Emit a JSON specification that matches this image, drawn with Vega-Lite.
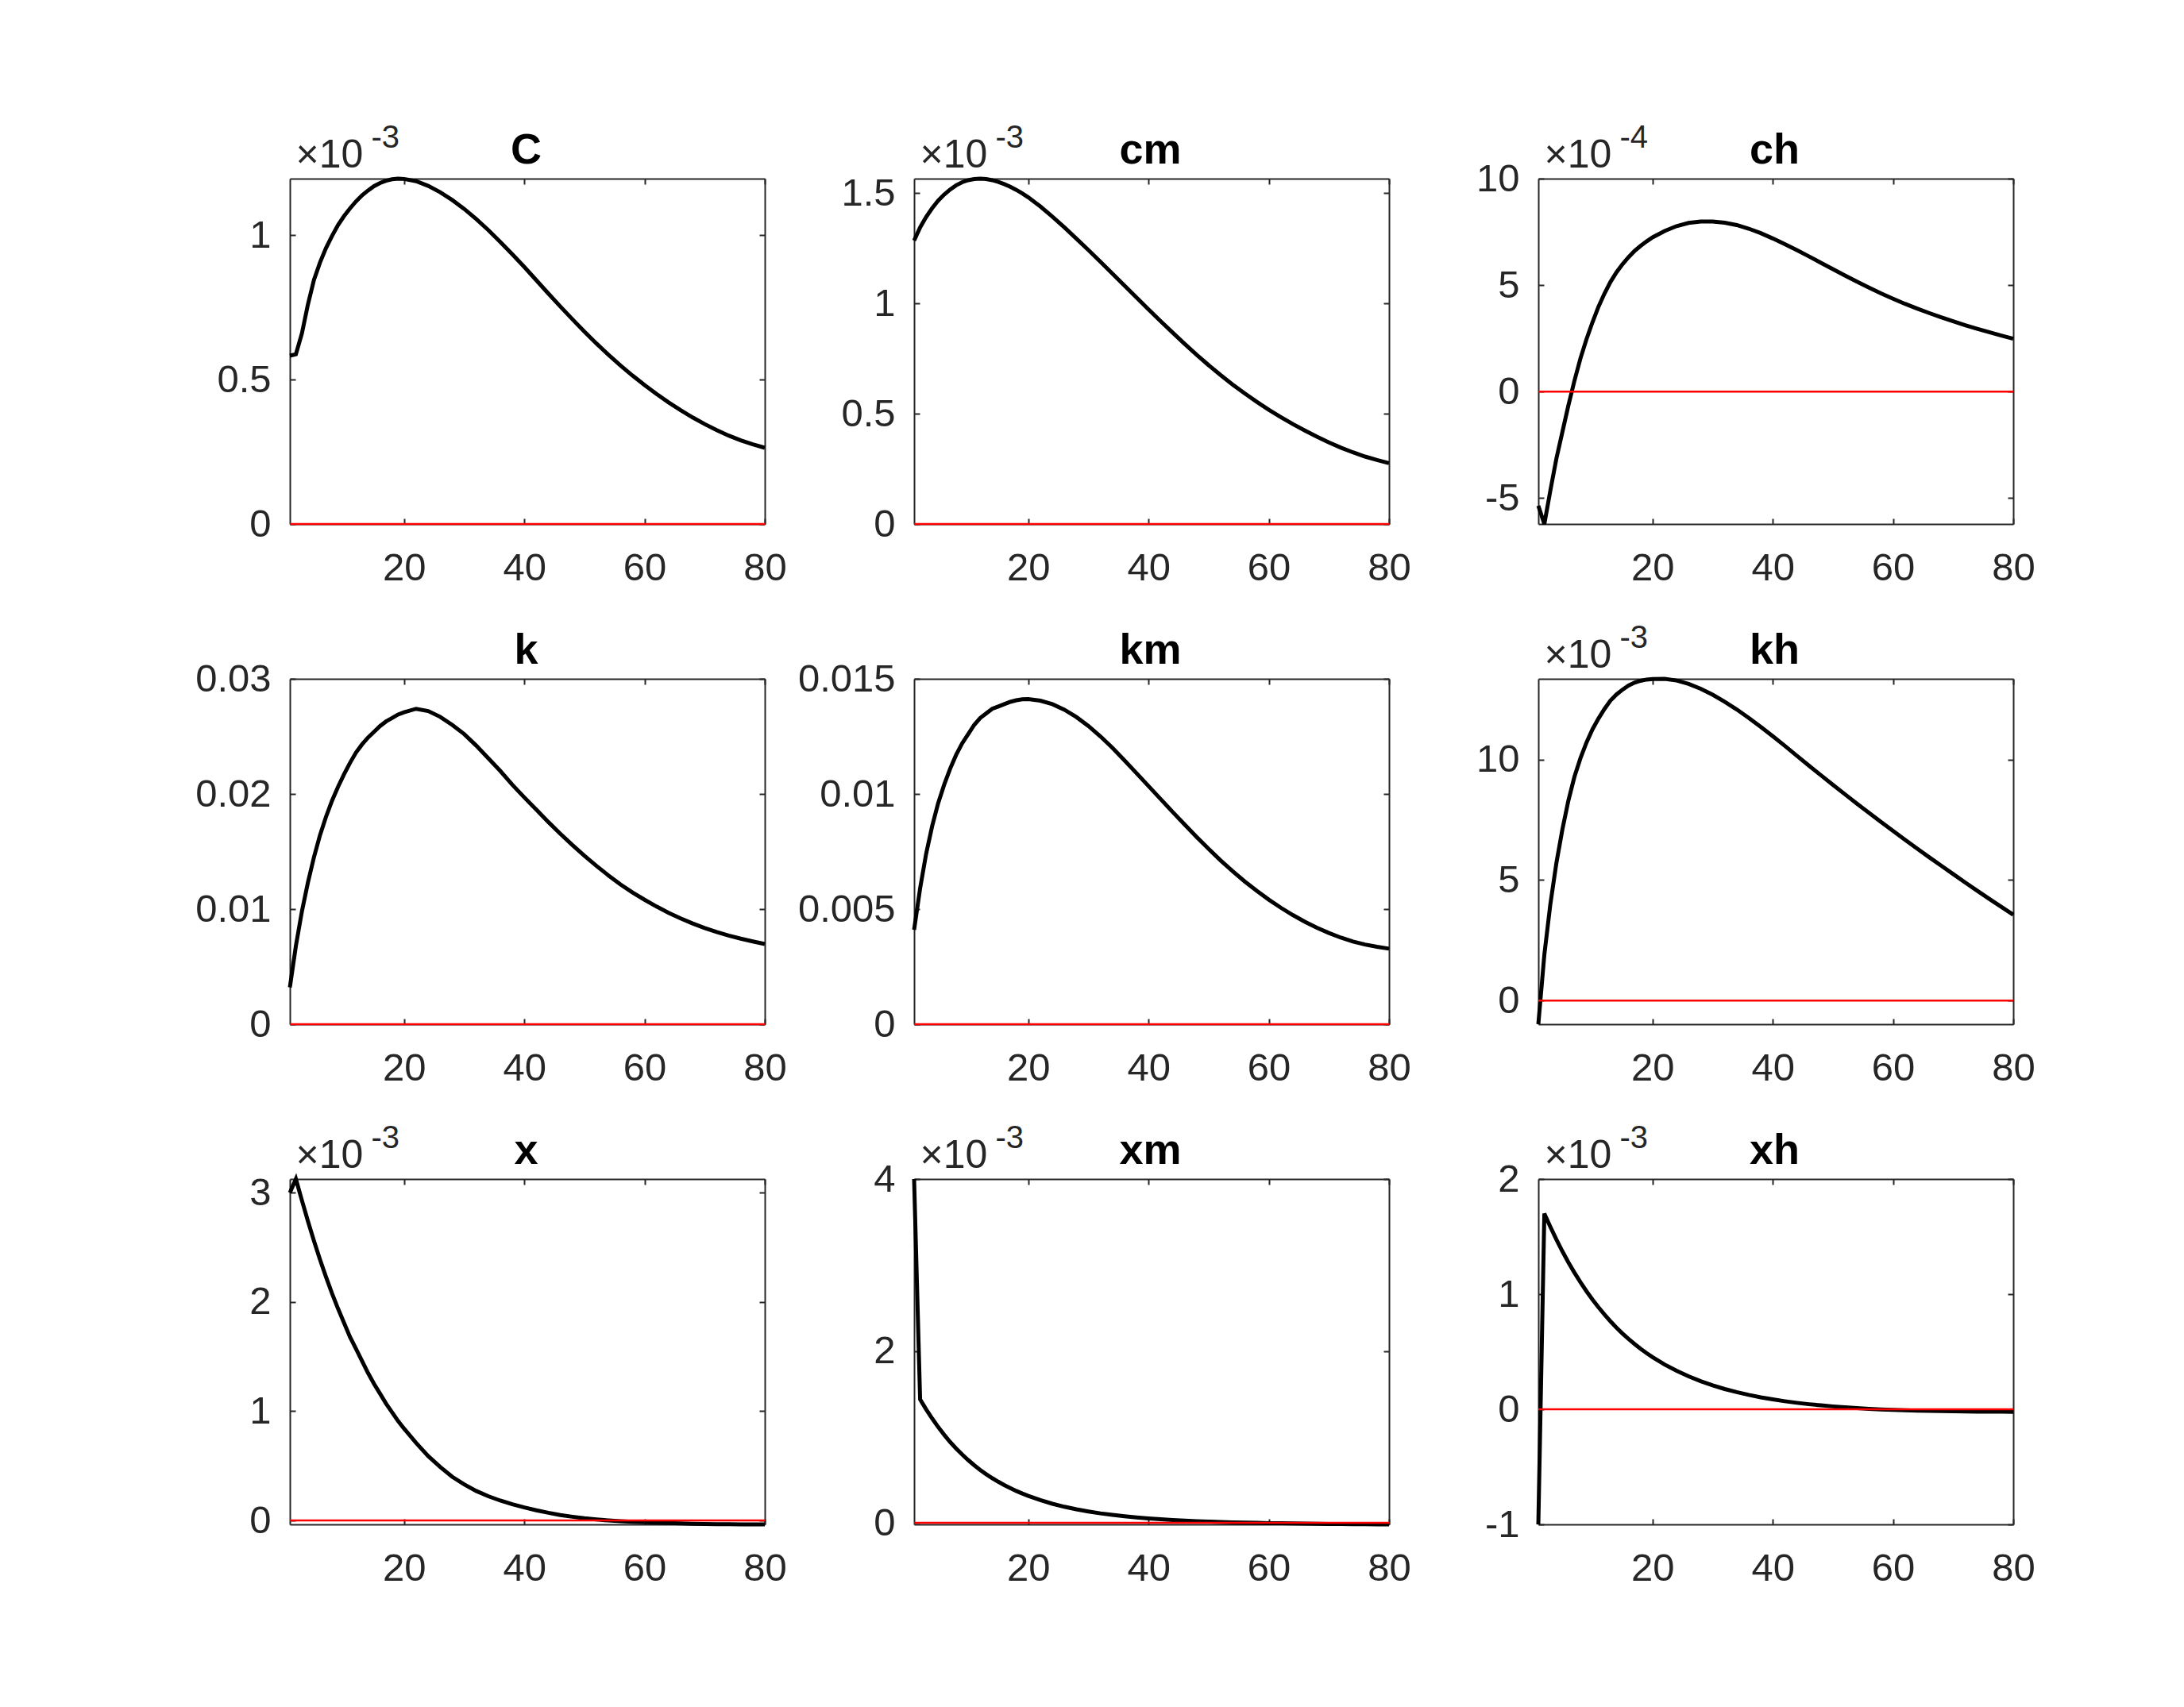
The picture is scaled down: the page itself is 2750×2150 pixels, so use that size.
{
"$schema": "https://vega.github.io/schema/vega-lite/v6.json",
"background": "white",
"autosize": {"type": "pad"},
"padding": {"left": 245, "top": 153, "right": 10, "bottom": 10},
"datasets": {"irf": [
{"v":"C","t":1,"y":0.000583},{"v":"C","t":2,"y":0.000588},{"v":"C","t":3,"y":0.00066},{"v":"C","t":4,"y":0.00076},{"v":"C","t":5,"y":0.000845},{"v":"C","t":6,"y":0.000905},{"v":"C","t":7,"y":0.000955},{"v":"C","t":8,"y":0.000997},{"v":"C","t":9,"y":0.001035},{"v":"C","t":10,"y":0.001066},{"v":"C","t":11,"y":0.001093},{"v":"C","t":12,"y":0.001117},{"v":"C","t":13,"y":0.001138},{"v":"C","t":14,"y":0.001155},{"v":"C","t":15,"y":0.00117},{"v":"C","t":16,"y":0.001181},{"v":"C","t":17,"y":0.001189},{"v":"C","t":18,"y":0.001194},{"v":"C","t":19,"y":0.001196},{"v":"C","t":20,"y":0.001195},{"v":"C","t":22,"y":0.001187},{"v":"C","t":24,"y":0.001171},{"v":"C","t":26,"y":0.001149},{"v":"C","t":28,"y":0.001122},{"v":"C","t":30,"y":0.001091},{"v":"C","t":32,"y":0.001056},{"v":"C","t":34,"y":0.001018},{"v":"C","t":36,"y":0.000977},{"v":"C","t":38,"y":0.000934},{"v":"C","t":40,"y":0.00089},{"v":"C","t":42,"y":0.000844},{"v":"C","t":44,"y":0.000798},{"v":"C","t":46,"y":0.000753},{"v":"C","t":48,"y":0.000709},{"v":"C","t":50,"y":0.000666},{"v":"C","t":52,"y":0.000625},{"v":"C","t":54,"y":0.000586},{"v":"C","t":56,"y":0.000549},{"v":"C","t":58,"y":0.000514},{"v":"C","t":60,"y":0.000481},{"v":"C","t":62,"y":0.00045},{"v":"C","t":64,"y":0.000421},{"v":"C","t":66,"y":0.000394},{"v":"C","t":68,"y":0.000369},{"v":"C","t":70,"y":0.000346},{"v":"C","t":72,"y":0.000325},{"v":"C","t":74,"y":0.000306},{"v":"C","t":76,"y":0.00029},{"v":"C","t":78,"y":0.000276},{"v":"C","t":80,"y":0.000264},
{"v":"cm","t":1,"y":0.001285},{"v":"cm","t":2,"y":0.001345},{"v":"cm","t":3,"y":0.001392},{"v":"cm","t":4,"y":0.001432},{"v":"cm","t":5,"y":0.001466},{"v":"cm","t":6,"y":0.001494},{"v":"cm","t":7,"y":0.001517},{"v":"cm","t":8,"y":0.001536},{"v":"cm","t":9,"y":0.00155},{"v":"cm","t":10,"y":0.001559},{"v":"cm","t":11,"y":0.001564},{"v":"cm","t":12,"y":0.001566},{"v":"cm","t":13,"y":0.001564},{"v":"cm","t":14,"y":0.001559},{"v":"cm","t":15,"y":0.001551},{"v":"cm","t":16,"y":0.001541},{"v":"cm","t":17,"y":0.001529},{"v":"cm","t":18,"y":0.001515},{"v":"cm","t":19,"y":0.001499},{"v":"cm","t":20,"y":0.001481},{"v":"cm","t":22,"y":0.00144},{"v":"cm","t":24,"y":0.001394},{"v":"cm","t":26,"y":0.001345},{"v":"cm","t":28,"y":0.001294},{"v":"cm","t":30,"y":0.001242},{"v":"cm","t":32,"y":0.001189},{"v":"cm","t":34,"y":0.001135},{"v":"cm","t":36,"y":0.001081},{"v":"cm","t":38,"y":0.001027},{"v":"cm","t":40,"y":0.000973},{"v":"cm","t":42,"y":0.00092},{"v":"cm","t":44,"y":0.000868},{"v":"cm","t":46,"y":0.000817},{"v":"cm","t":48,"y":0.000767},{"v":"cm","t":50,"y":0.00072},{"v":"cm","t":52,"y":0.000675},{"v":"cm","t":54,"y":0.000632},{"v":"cm","t":56,"y":0.000592},{"v":"cm","t":58,"y":0.000554},{"v":"cm","t":60,"y":0.000518},{"v":"cm","t":62,"y":0.000485},{"v":"cm","t":64,"y":0.000453},{"v":"cm","t":66,"y":0.000424},{"v":"cm","t":68,"y":0.000396},{"v":"cm","t":70,"y":0.00037},{"v":"cm","t":72,"y":0.000346},{"v":"cm","t":74,"y":0.000325},{"v":"cm","t":76,"y":0.000306},{"v":"cm","t":78,"y":0.00029},{"v":"cm","t":80,"y":0.000276},
{"v":"ch","t":1,"y":-0.000536},{"v":"ch","t":2,"y":-0.000622},{"v":"ch","t":3,"y":-0.000465},{"v":"ch","t":4,"y":-0.000315},{"v":"ch","t":5,"y":-0.00019},{"v":"ch","t":6,"y":-0.000065},{"v":"ch","t":7,"y":0.00005},{"v":"ch","t":8,"y":0.000155},{"v":"ch","t":9,"y":0.000245},{"v":"ch","t":10,"y":0.000325},{"v":"ch","t":11,"y":0.000398},{"v":"ch","t":12,"y":0.00046},{"v":"ch","t":13,"y":0.000515},{"v":"ch","t":14,"y":0.00056},{"v":"ch","t":15,"y":0.000598},{"v":"ch","t":16,"y":0.000631},{"v":"ch","t":17,"y":0.00066},{"v":"ch","t":18,"y":0.000684},{"v":"ch","t":19,"y":0.000705},{"v":"ch","t":20,"y":0.000724},{"v":"ch","t":22,"y":0.000754},{"v":"ch","t":24,"y":0.000777},{"v":"ch","t":26,"y":0.000792},{"v":"ch","t":28,"y":0.000799},{"v":"ch","t":30,"y":0.000799},{"v":"ch","t":32,"y":0.000793},{"v":"ch","t":34,"y":0.000782},{"v":"ch","t":36,"y":0.000765},{"v":"ch","t":38,"y":0.000744},{"v":"ch","t":40,"y":0.000719},{"v":"ch","t":42,"y":0.000692},{"v":"ch","t":44,"y":0.000664},{"v":"ch","t":46,"y":0.000635},{"v":"ch","t":48,"y":0.000605},{"v":"ch","t":50,"y":0.000575},{"v":"ch","t":52,"y":0.000545},{"v":"ch","t":54,"y":0.000516},{"v":"ch","t":56,"y":0.000488},{"v":"ch","t":58,"y":0.000461},{"v":"ch","t":60,"y":0.000436},{"v":"ch","t":62,"y":0.000412},{"v":"ch","t":64,"y":0.00039},{"v":"ch","t":66,"y":0.000369},{"v":"ch","t":68,"y":0.000349},{"v":"ch","t":70,"y":0.00033},{"v":"ch","t":72,"y":0.000312},{"v":"ch","t":74,"y":0.000295},{"v":"ch","t":76,"y":0.000279},{"v":"ch","t":78,"y":0.000263},{"v":"ch","t":80,"y":0.000248},
{"v":"k","t":1,"y":0.0032},{"v":"k","t":2,"y":0.0068},{"v":"k","t":3,"y":0.0098},{"v":"k","t":4,"y":0.0123},{"v":"k","t":5,"y":0.0145},{"v":"k","t":6,"y":0.0164},{"v":"k","t":7,"y":0.018},{"v":"k","t":8,"y":0.0194},{"v":"k","t":9,"y":0.0206},{"v":"k","t":10,"y":0.0217},{"v":"k","t":11,"y":0.0227},{"v":"k","t":12,"y":0.0236},{"v":"k","t":13,"y":0.0243},{"v":"k","t":14,"y":0.0249},{"v":"k","t":15,"y":0.0254},{"v":"k","t":16,"y":0.0259},{"v":"k","t":17,"y":0.0263},{"v":"k","t":18,"y":0.0266},{"v":"k","t":19,"y":0.0269},{"v":"k","t":20,"y":0.0271},{"v":"k","t":22,"y":0.0274},{"v":"k","t":24,"y":0.0272},{"v":"k","t":26,"y":0.0267},{"v":"k","t":28,"y":0.026},{"v":"k","t":30,"y":0.0252},{"v":"k","t":32,"y":0.0242},{"v":"k","t":34,"y":0.0231},{"v":"k","t":36,"y":0.022},{"v":"k","t":38,"y":0.0208},{"v":"k","t":40,"y":0.0197},{"v":"k","t":42,"y":0.01863},{"v":"k","t":44,"y":0.01756},{"v":"k","t":46,"y":0.01654},{"v":"k","t":48,"y":0.01556},{"v":"k","t":50,"y":0.01463},{"v":"k","t":52,"y":0.01375},{"v":"k","t":54,"y":0.01292},{"v":"k","t":56,"y":0.01214},{"v":"k","t":58,"y":0.01144},{"v":"k","t":60,"y":0.01081},{"v":"k","t":62,"y":0.01022},{"v":"k","t":64,"y":0.00968},{"v":"k","t":66,"y":0.00919},{"v":"k","t":68,"y":0.00875},{"v":"k","t":70,"y":0.00836},{"v":"k","t":72,"y":0.00801},{"v":"k","t":74,"y":0.0077},{"v":"k","t":76,"y":0.00743},{"v":"k","t":78,"y":0.00719},{"v":"k","t":80,"y":0.00697},
{"v":"km","t":1,"y":0.0041},{"v":"km","t":2,"y":0.0059},{"v":"km","t":3,"y":0.0074},{"v":"km","t":4,"y":0.0086},{"v":"km","t":5,"y":0.0096},{"v":"km","t":6,"y":0.0104},{"v":"km","t":7,"y":0.0111},{"v":"km","t":8,"y":0.0117},{"v":"km","t":9,"y":0.0122},{"v":"km","t":10,"y":0.0126},{"v":"km","t":11,"y":0.013},{"v":"km","t":12,"y":0.0133},{"v":"km","t":13,"y":0.0135},{"v":"km","t":14,"y":0.0137},{"v":"km","t":15,"y":0.0138},{"v":"km","t":16,"y":0.0139},{"v":"km","t":17,"y":0.014},{"v":"km","t":18,"y":0.01407},{"v":"km","t":19,"y":0.01411},{"v":"km","t":20,"y":0.01412},{"v":"km","t":22,"y":0.01405},{"v":"km","t":24,"y":0.0139},{"v":"km","t":26,"y":0.01366},{"v":"km","t":28,"y":0.01334},{"v":"km","t":30,"y":0.01295},{"v":"km","t":32,"y":0.0125},{"v":"km","t":34,"y":0.012},{"v":"km","t":36,"y":0.01146},{"v":"km","t":38,"y":0.0109},{"v":"km","t":40,"y":0.01034},{"v":"km","t":42,"y":0.00978},{"v":"km","t":44,"y":0.00922},{"v":"km","t":46,"y":0.00867},{"v":"km","t":48,"y":0.00813},{"v":"km","t":50,"y":0.00761},{"v":"km","t":52,"y":0.00711},{"v":"km","t":54,"y":0.00664},{"v":"km","t":56,"y":0.0062},{"v":"km","t":58,"y":0.00579},{"v":"km","t":60,"y":0.00541},{"v":"km","t":62,"y":0.00506},{"v":"km","t":64,"y":0.00474},{"v":"km","t":66,"y":0.00445},{"v":"km","t":68,"y":0.00419},{"v":"km","t":70,"y":0.00396},{"v":"km","t":72,"y":0.00376},{"v":"km","t":74,"y":0.00359},{"v":"km","t":76,"y":0.00346},{"v":"km","t":78,"y":0.00336},{"v":"km","t":80,"y":0.00328},
{"v":"kh","t":1,"y":-0.00098},{"v":"kh","t":2,"y":0.0019},{"v":"kh","t":3,"y":0.004},{"v":"kh","t":4,"y":0.0057},{"v":"kh","t":5,"y":0.0071},{"v":"kh","t":6,"y":0.0083},{"v":"kh","t":7,"y":0.00928},{"v":"kh","t":8,"y":0.01005},{"v":"kh","t":9,"y":0.0107},{"v":"kh","t":10,"y":0.01125},{"v":"kh","t":11,"y":0.0117},{"v":"kh","t":12,"y":0.0121},{"v":"kh","t":13,"y":0.01245},{"v":"kh","t":14,"y":0.0127},{"v":"kh","t":15,"y":0.0129},{"v":"kh","t":16,"y":0.01307},{"v":"kh","t":17,"y":0.01319},{"v":"kh","t":18,"y":0.01327},{"v":"kh","t":19,"y":0.01332},{"v":"kh","t":20,"y":0.01334},{"v":"kh","t":22,"y":0.01335},{"v":"kh","t":24,"y":0.01328},{"v":"kh","t":26,"y":0.01314},{"v":"kh","t":28,"y":0.01294},{"v":"kh","t":30,"y":0.01269},{"v":"kh","t":32,"y":0.0124},{"v":"kh","t":34,"y":0.01208},{"v":"kh","t":36,"y":0.01173},{"v":"kh","t":38,"y":0.01136},{"v":"kh","t":40,"y":0.01097},{"v":"kh","t":42,"y":0.01057},{"v":"kh","t":44,"y":0.01016},{"v":"kh","t":46,"y":0.00975},{"v":"kh","t":48,"y":0.00935},{"v":"kh","t":50,"y":0.00895},{"v":"kh","t":52,"y":0.00856},{"v":"kh","t":54,"y":0.00817},{"v":"kh","t":56,"y":0.00779},{"v":"kh","t":58,"y":0.00741},{"v":"kh","t":60,"y":0.00704},{"v":"kh","t":62,"y":0.00667},{"v":"kh","t":64,"y":0.00631},{"v":"kh","t":66,"y":0.00595},{"v":"kh","t":68,"y":0.0056},{"v":"kh","t":70,"y":0.00525},{"v":"kh","t":72,"y":0.0049},{"v":"kh","t":74,"y":0.00456},{"v":"kh","t":76,"y":0.00422},{"v":"kh","t":78,"y":0.00389},{"v":"kh","t":80,"y":0.00356},
{"v":"x","t":1,"y":0.003},{"v":"x","t":2,"y":0.003125},{"v":"x","t":3,"y":0.00293},{"v":"x","t":4,"y":0.00274},{"v":"x","t":5,"y":0.00256},{"v":"x","t":6,"y":0.00239},{"v":"x","t":7,"y":0.00223},{"v":"x","t":8,"y":0.00208},{"v":"x","t":9,"y":0.00194},{"v":"x","t":10,"y":0.00181},{"v":"x","t":11,"y":0.00168},{"v":"x","t":12,"y":0.00157},{"v":"x","t":13,"y":0.00146},{"v":"x","t":14,"y":0.00135},{"v":"x","t":15,"y":0.00125},{"v":"x","t":16,"y":0.00116},{"v":"x","t":17,"y":0.00107},{"v":"x","t":18,"y":0.00099},{"v":"x","t":19,"y":0.00091},{"v":"x","t":20,"y":0.00084},{"v":"x","t":22,"y":0.00071},{"v":"x","t":24,"y":0.00059},{"v":"x","t":26,"y":0.00049},{"v":"x","t":28,"y":0.0004},{"v":"x","t":30,"y":0.00033},{"v":"x","t":32,"y":0.00027},{"v":"x","t":34,"y":0.000222},{"v":"x","t":36,"y":0.000182},{"v":"x","t":38,"y":0.000148},{"v":"x","t":40,"y":0.000119},{"v":"x","t":42,"y":0.000093},{"v":"x","t":44,"y":0.00007},{"v":"x","t":46,"y":0.00005},{"v":"x","t":48,"y":0.000034},{"v":"x","t":50,"y":0.00002},{"v":"x","t":52,"y":0.000009},{"v":"x","t":54,"y":0.0},{"v":"x","t":56,"y":-0.000007},{"v":"x","t":58,"y":-0.000012},{"v":"x","t":60,"y":-0.000016},{"v":"x","t":62,"y":-0.00002},{"v":"x","t":64,"y":-0.000024},{"v":"x","t":66,"y":-0.000027},{"v":"x","t":68,"y":-0.00003},{"v":"x","t":70,"y":-0.000032},{"v":"x","t":72,"y":-0.000034},{"v":"x","t":74,"y":-0.000035},{"v":"x","t":76,"y":-0.000036},{"v":"x","t":78,"y":-0.000036},{"v":"x","t":80,"y":-0.000036},
{"v":"xm","t":1,"y":0.004},{"v":"xm","t":2,"y":0.001436},{"v":"xm","t":3,"y":0.00132},{"v":"xm","t":4,"y":0.001215},{"v":"xm","t":5,"y":0.001115},{"v":"xm","t":6,"y":0.001025},{"v":"xm","t":7,"y":0.00094},{"v":"xm","t":8,"y":0.000865},{"v":"xm","t":9,"y":0.000795},{"v":"xm","t":10,"y":0.00073},{"v":"xm","t":11,"y":0.00067},{"v":"xm","t":12,"y":0.000615},{"v":"xm","t":13,"y":0.000565},{"v":"xm","t":14,"y":0.00052},{"v":"xm","t":15,"y":0.000478},{"v":"xm","t":16,"y":0.00044},{"v":"xm","t":17,"y":0.000404},{"v":"xm","t":18,"y":0.000371},{"v":"xm","t":19,"y":0.000341},{"v":"xm","t":20,"y":0.000313},{"v":"xm","t":22,"y":0.000264},{"v":"xm","t":24,"y":0.000222},{"v":"xm","t":26,"y":0.000187},{"v":"xm","t":28,"y":0.000157},{"v":"xm","t":30,"y":0.000132},{"v":"xm","t":32,"y":0.00011},{"v":"xm","t":34,"y":0.000092},{"v":"xm","t":36,"y":0.000076},{"v":"xm","t":38,"y":0.000062},{"v":"xm","t":40,"y":0.000051},{"v":"xm","t":42,"y":0.000041},{"v":"xm","t":44,"y":0.000033},{"v":"xm","t":46,"y":0.000026},{"v":"xm","t":48,"y":0.00002},{"v":"xm","t":50,"y":0.000015},{"v":"xm","t":52,"y":0.00001},{"v":"xm","t":54,"y":0.000006},{"v":"xm","t":56,"y":0.000003},{"v":"xm","t":58,"y":0.0},{"v":"xm","t":60,"y":-0.000003},{"v":"xm","t":62,"y":-0.000005},{"v":"xm","t":64,"y":-0.000007},{"v":"xm","t":66,"y":-0.000009},{"v":"xm","t":68,"y":-0.000011},{"v":"xm","t":70,"y":-0.000013},{"v":"xm","t":72,"y":-0.000014},{"v":"xm","t":74,"y":-0.000015},{"v":"xm","t":76,"y":-0.000016},{"v":"xm","t":78,"y":-0.000017},{"v":"xm","t":80,"y":-0.000018},
{"v":"xh","t":1,"y":-0.001},{"v":"xh","t":2,"y":0.0017},{"v":"xh","t":3,"y":0.001585},{"v":"xh","t":4,"y":0.001475},{"v":"xh","t":5,"y":0.001372},{"v":"xh","t":6,"y":0.001276},{"v":"xh","t":7,"y":0.001187},{"v":"xh","t":8,"y":0.001104},{"v":"xh","t":9,"y":0.001026},{"v":"xh","t":10,"y":0.000953},{"v":"xh","t":11,"y":0.000886},{"v":"xh","t":12,"y":0.000823},{"v":"xh","t":13,"y":0.000764},{"v":"xh","t":14,"y":0.000709},{"v":"xh","t":15,"y":0.000658},{"v":"xh","t":16,"y":0.000611},{"v":"xh","t":17,"y":0.000567},{"v":"xh","t":18,"y":0.000526},{"v":"xh","t":19,"y":0.000488},{"v":"xh","t":20,"y":0.000453},{"v":"xh","t":22,"y":0.000389},{"v":"xh","t":24,"y":0.000334},{"v":"xh","t":26,"y":0.000286},{"v":"xh","t":28,"y":0.000244},{"v":"xh","t":30,"y":0.000208},{"v":"xh","t":32,"y":0.000176},{"v":"xh","t":34,"y":0.000149},{"v":"xh","t":36,"y":0.000125},{"v":"xh","t":38,"y":0.000104},{"v":"xh","t":40,"y":0.000086},{"v":"xh","t":42,"y":0.00007},{"v":"xh","t":44,"y":0.000056},{"v":"xh","t":46,"y":0.000044},{"v":"xh","t":48,"y":0.000034},{"v":"xh","t":50,"y":0.000025},{"v":"xh","t":52,"y":0.000017},{"v":"xh","t":54,"y":0.00001},{"v":"xh","t":56,"y":0.000004},{"v":"xh","t":58,"y":-0.000001},{"v":"xh","t":60,"y":-0.000005},{"v":"xh","t":62,"y":-0.000009},{"v":"xh","t":64,"y":-0.000012},{"v":"xh","t":66,"y":-0.000014},{"v":"xh","t":68,"y":-0.000016},{"v":"xh","t":70,"y":-0.000018},{"v":"xh","t":72,"y":-0.000019},{"v":"xh","t":74,"y":-0.00002},{"v":"xh","t":76,"y":-0.000021},{"v":"xh","t":78,"y":-0.000021},{"v":"xh","t":80,"y":-0.000022}
],
"zero": [{"t0": 1, "t1": 80, "z": 0}]},
"data": {"name": "irf"},
"columns": 3,
"bounds": "flush",
"spacing": {"row": 195, "column": 188},
"concat": [
{"width": 598, "height": 435,
 "layer": [
  {"transform": [{"filter": "datum.v === 'C'"}], "mark": {"type": "line", "color": "black", "strokeWidth": 5},
   "encoding": {
    "x": {"field": "t", "type": "quantitative", "scale": {"domain": [1, 80], "nice": false, "zero": false}, "axis": {"orient": "bottom", "values": [20, 40, 60, 80], "title": null}},
    "y": {"field": "y", "type": "quantitative", "scale": {"domain": [0, 0.001196], "nice": false, "zero": false}, "axis": {"orient": "left", "values": [0, 0.0005, 0.001], "labelExpr": "'' + round(datum.value * 10000) / 10", "title": "×10"}}}},
  {"data": {"name": "zero"}, "mark": {"type": "rule", "color": "#ff0000", "strokeWidth": 2.5},
   "encoding": {
    "x": {"field": "t0", "type": "quantitative", "scale": {"domain": [1, 80], "nice": false, "zero": false}, "axis": {"orient": "top", "values": [20, 40, 60, 80], "title": "C"}},
    "x2": {"field": "t1"},
    "y": {"field": "z", "type": "quantitative", "scale": {"domain": [0, 0.001196], "nice": false, "zero": false}, "axis": {"orient": "right", "values": [0, 0.0005, 0.001], "title": "-3"}}}}
 ],
 "resolve": {"axis": {"x": "independent", "y": "independent"}}},
{"width": 598, "height": 435,
 "layer": [
  {"transform": [{"filter": "datum.v === 'cm'"}], "mark": {"type": "line", "color": "black", "strokeWidth": 5},
   "encoding": {
    "x": {"field": "t", "type": "quantitative", "scale": {"domain": [1, 80], "nice": false, "zero": false}, "axis": {"orient": "bottom", "values": [20, 40, 60, 80], "title": null}},
    "y": {"field": "y", "type": "quantitative", "scale": {"domain": [0, 0.001566], "nice": false, "zero": false}, "axis": {"orient": "left", "values": [0, 0.0005, 0.001, 0.0015], "labelExpr": "'' + round(datum.value * 10000) / 10", "title": "×10"}}}},
  {"data": {"name": "zero"}, "mark": {"type": "rule", "color": "#ff0000", "strokeWidth": 2.5},
   "encoding": {
    "x": {"field": "t0", "type": "quantitative", "scale": {"domain": [1, 80], "nice": false, "zero": false}, "axis": {"orient": "top", "values": [20, 40, 60, 80], "title": "cm"}},
    "x2": {"field": "t1"},
    "y": {"field": "z", "type": "quantitative", "scale": {"domain": [0, 0.001566], "nice": false, "zero": false}, "axis": {"orient": "right", "values": [0, 0.0005, 0.001, 0.0015], "title": "-3"}}}}
 ],
 "resolve": {"axis": {"x": "independent", "y": "independent"}}},
{"width": 598, "height": 435,
 "layer": [
  {"transform": [{"filter": "datum.v === 'ch'"}], "mark": {"type": "line", "color": "black", "strokeWidth": 5},
   "encoding": {
    "x": {"field": "t", "type": "quantitative", "scale": {"domain": [1, 80], "nice": false, "zero": false}, "axis": {"orient": "bottom", "values": [20, 40, 60, 80], "title": null}},
    "y": {"field": "y", "type": "quantitative", "scale": {"domain": [-0.000622, 0.001], "nice": false, "zero": false}, "axis": {"orient": "left", "values": [-0.0005, 0, 0.0005, 0.001], "labelExpr": "'' + round(datum.value * 100000) / 10", "title": "×10"}}}},
  {"data": {"name": "zero"}, "mark": {"type": "rule", "color": "#ff0000", "strokeWidth": 2.5},
   "encoding": {
    "x": {"field": "t0", "type": "quantitative", "scale": {"domain": [1, 80], "nice": false, "zero": false}, "axis": {"orient": "top", "values": [20, 40, 60, 80], "title": "ch"}},
    "x2": {"field": "t1"},
    "y": {"field": "z", "type": "quantitative", "scale": {"domain": [-0.000622, 0.001], "nice": false, "zero": false}, "axis": {"orient": "right", "values": [-0.0005, 0, 0.0005, 0.001], "title": "-4"}}}}
 ],
 "resolve": {"axis": {"x": "independent", "y": "independent"}}},
{"width": 598, "height": 435,
 "layer": [
  {"transform": [{"filter": "datum.v === 'k'"}], "mark": {"type": "line", "color": "black", "strokeWidth": 5},
   "encoding": {
    "x": {"field": "t", "type": "quantitative", "scale": {"domain": [1, 80], "nice": false, "zero": false}, "axis": {"orient": "bottom", "values": [20, 40, 60, 80], "title": null}},
    "y": {"field": "y", "type": "quantitative", "scale": {"domain": [0, 0.03], "nice": false, "zero": false}, "axis": {"orient": "left", "values": [0, 0.01, 0.02, 0.03], "labelExpr": "'' + round(datum.value * 1000) / 1000", "title": null}}}},
  {"data": {"name": "zero"}, "mark": {"type": "rule", "color": "#ff0000", "strokeWidth": 2.5},
   "encoding": {
    "x": {"field": "t0", "type": "quantitative", "scale": {"domain": [1, 80], "nice": false, "zero": false}, "axis": {"orient": "top", "values": [20, 40, 60, 80], "title": "k"}},
    "x2": {"field": "t1"},
    "y": {"field": "z", "type": "quantitative", "scale": {"domain": [0, 0.03], "nice": false, "zero": false}, "axis": {"orient": "right", "values": [0, 0.01, 0.02, 0.03], "title": null}}}}
 ],
 "resolve": {"axis": {"x": "independent", "y": "independent"}}},
{"width": 598, "height": 435,
 "layer": [
  {"transform": [{"filter": "datum.v === 'km'"}], "mark": {"type": "line", "color": "black", "strokeWidth": 5},
   "encoding": {
    "x": {"field": "t", "type": "quantitative", "scale": {"domain": [1, 80], "nice": false, "zero": false}, "axis": {"orient": "bottom", "values": [20, 40, 60, 80], "title": null}},
    "y": {"field": "y", "type": "quantitative", "scale": {"domain": [0, 0.015], "nice": false, "zero": false}, "axis": {"orient": "left", "values": [0, 0.005, 0.01, 0.015], "labelExpr": "'' + round(datum.value * 10000) / 10000", "title": null}}}},
  {"data": {"name": "zero"}, "mark": {"type": "rule", "color": "#ff0000", "strokeWidth": 2.5},
   "encoding": {
    "x": {"field": "t0", "type": "quantitative", "scale": {"domain": [1, 80], "nice": false, "zero": false}, "axis": {"orient": "top", "values": [20, 40, 60, 80], "title": "km"}},
    "x2": {"field": "t1"},
    "y": {"field": "z", "type": "quantitative", "scale": {"domain": [0, 0.015], "nice": false, "zero": false}, "axis": {"orient": "right", "values": [0, 0.005, 0.01, 0.015], "title": null}}}}
 ],
 "resolve": {"axis": {"x": "independent", "y": "independent"}}},
{"width": 598, "height": 435,
 "layer": [
  {"transform": [{"filter": "datum.v === 'kh'"}], "mark": {"type": "line", "color": "black", "strokeWidth": 5},
   "encoding": {
    "x": {"field": "t", "type": "quantitative", "scale": {"domain": [1, 80], "nice": false, "zero": false}, "axis": {"orient": "bottom", "values": [20, 40, 60, 80], "title": null}},
    "y": {"field": "y", "type": "quantitative", "scale": {"domain": [-0.00098, 0.01335], "nice": false, "zero": false}, "axis": {"orient": "left", "values": [0, 0.005, 0.01], "labelExpr": "'' + round(datum.value * 10000) / 10", "title": "×10"}}}},
  {"data": {"name": "zero"}, "mark": {"type": "rule", "color": "#ff0000", "strokeWidth": 2.5},
   "encoding": {
    "x": {"field": "t0", "type": "quantitative", "scale": {"domain": [1, 80], "nice": false, "zero": false}, "axis": {"orient": "top", "values": [20, 40, 60, 80], "title": "kh"}},
    "x2": {"field": "t1"},
    "y": {"field": "z", "type": "quantitative", "scale": {"domain": [-0.00098, 0.01335], "nice": false, "zero": false}, "axis": {"orient": "right", "values": [0, 0.005, 0.01], "title": "-3"}}}}
 ],
 "resolve": {"axis": {"x": "independent", "y": "independent"}}},
{"width": 598, "height": 435,
 "layer": [
  {"transform": [{"filter": "datum.v === 'x'"}], "mark": {"type": "line", "color": "black", "strokeWidth": 5},
   "encoding": {
    "x": {"field": "t", "type": "quantitative", "scale": {"domain": [1, 80], "nice": false, "zero": false}, "axis": {"orient": "bottom", "values": [20, 40, 60, 80], "title": null}},
    "y": {"field": "y", "type": "quantitative", "scale": {"domain": [-0.000036, 0.003125], "nice": false, "zero": false}, "axis": {"orient": "left", "values": [0, 0.001, 0.002, 0.003], "labelExpr": "'' + round(datum.value * 10000) / 10", "title": "×10"}}}},
  {"data": {"name": "zero"}, "mark": {"type": "rule", "color": "#ff0000", "strokeWidth": 2.5},
   "encoding": {
    "x": {"field": "t0", "type": "quantitative", "scale": {"domain": [1, 80], "nice": false, "zero": false}, "axis": {"orient": "top", "values": [20, 40, 60, 80], "title": "x"}},
    "x2": {"field": "t1"},
    "y": {"field": "z", "type": "quantitative", "scale": {"domain": [-0.000036, 0.003125], "nice": false, "zero": false}, "axis": {"orient": "right", "values": [0, 0.001, 0.002, 0.003], "title": "-3"}}}}
 ],
 "resolve": {"axis": {"x": "independent", "y": "independent"}}},
{"width": 598, "height": 435,
 "layer": [
  {"transform": [{"filter": "datum.v === 'xm'"}], "mark": {"type": "line", "color": "black", "strokeWidth": 5},
   "encoding": {
    "x": {"field": "t", "type": "quantitative", "scale": {"domain": [1, 80], "nice": false, "zero": false}, "axis": {"orient": "bottom", "values": [20, 40, 60, 80], "title": null}},
    "y": {"field": "y", "type": "quantitative", "scale": {"domain": [-0.000018, 0.004], "nice": false, "zero": false}, "axis": {"orient": "left", "values": [0, 0.002, 0.004], "labelExpr": "'' + round(datum.value * 10000) / 10", "title": "×10"}}}},
  {"data": {"name": "zero"}, "mark": {"type": "rule", "color": "#ff0000", "strokeWidth": 2.5},
   "encoding": {
    "x": {"field": "t0", "type": "quantitative", "scale": {"domain": [1, 80], "nice": false, "zero": false}, "axis": {"orient": "top", "values": [20, 40, 60, 80], "title": "xm"}},
    "x2": {"field": "t1"},
    "y": {"field": "z", "type": "quantitative", "scale": {"domain": [-0.000018, 0.004], "nice": false, "zero": false}, "axis": {"orient": "right", "values": [0, 0.002, 0.004], "title": "-3"}}}}
 ],
 "resolve": {"axis": {"x": "independent", "y": "independent"}}},
{"width": 598, "height": 435,
 "layer": [
  {"transform": [{"filter": "datum.v === 'xh'"}], "mark": {"type": "line", "color": "black", "strokeWidth": 5},
   "encoding": {
    "x": {"field": "t", "type": "quantitative", "scale": {"domain": [1, 80], "nice": false, "zero": false}, "axis": {"orient": "bottom", "values": [20, 40, 60, 80], "title": null}},
    "y": {"field": "y", "type": "quantitative", "scale": {"domain": [-0.001, 0.002], "nice": false, "zero": false}, "axis": {"orient": "left", "values": [-0.001, 0, 0.001, 0.002], "labelExpr": "'' + round(datum.value * 10000) / 10", "title": "×10"}}}},
  {"data": {"name": "zero"}, "mark": {"type": "rule", "color": "#ff0000", "strokeWidth": 2.5},
   "encoding": {
    "x": {"field": "t0", "type": "quantitative", "scale": {"domain": [1, 80], "nice": false, "zero": false}, "axis": {"orient": "top", "values": [20, 40, 60, 80], "title": "xh"}},
    "x2": {"field": "t1"},
    "y": {"field": "z", "type": "quantitative", "scale": {"domain": [-0.001, 0.002], "nice": false, "zero": false}, "axis": {"orient": "right", "values": [-0.001, 0, 0.001, 0.002], "title": "-3"}}}}
 ],
 "resolve": {"axis": {"x": "independent", "y": "independent"}}}
],
"config": {
 "font": "Liberation Sans",
 "view": {"stroke": null},
 "axis": {"grid": false, "domainColor": "#262626", "domainWidth": 2, "tickColor": "#262626", "tickWidth": 2, "tickSize": -7, "labelColor": "#262626", "labelFontSize": 49, "labelFlush": false, "labelOverlap": false, "titleColor": "#262626", "titleFontWeight": "normal", "titleAngle": 0, "titlePadding": 0},
 "axisLeft": {"labelPadding": 31, "titleFontSize": 50, "titleX": 7, "titleY": -15, "titleAlign": "left", "titleBaseline": "alphabetic"},
 "axisBottom": {"labelPadding": 38},
 "axisTop": {"labels": false, "titleFontSize": 54, "titleFontWeight": "bold", "titleColor": "black", "titleX": 297, "titleY": -20, "titleAlign": "center", "titleBaseline": "alphabetic"},
 "axisRight": {"labels": false, "titleFontSize": 40, "titleX": -496, "titleY": -40, "titleAlign": "left", "titleBaseline": "alphabetic"}
}
}
